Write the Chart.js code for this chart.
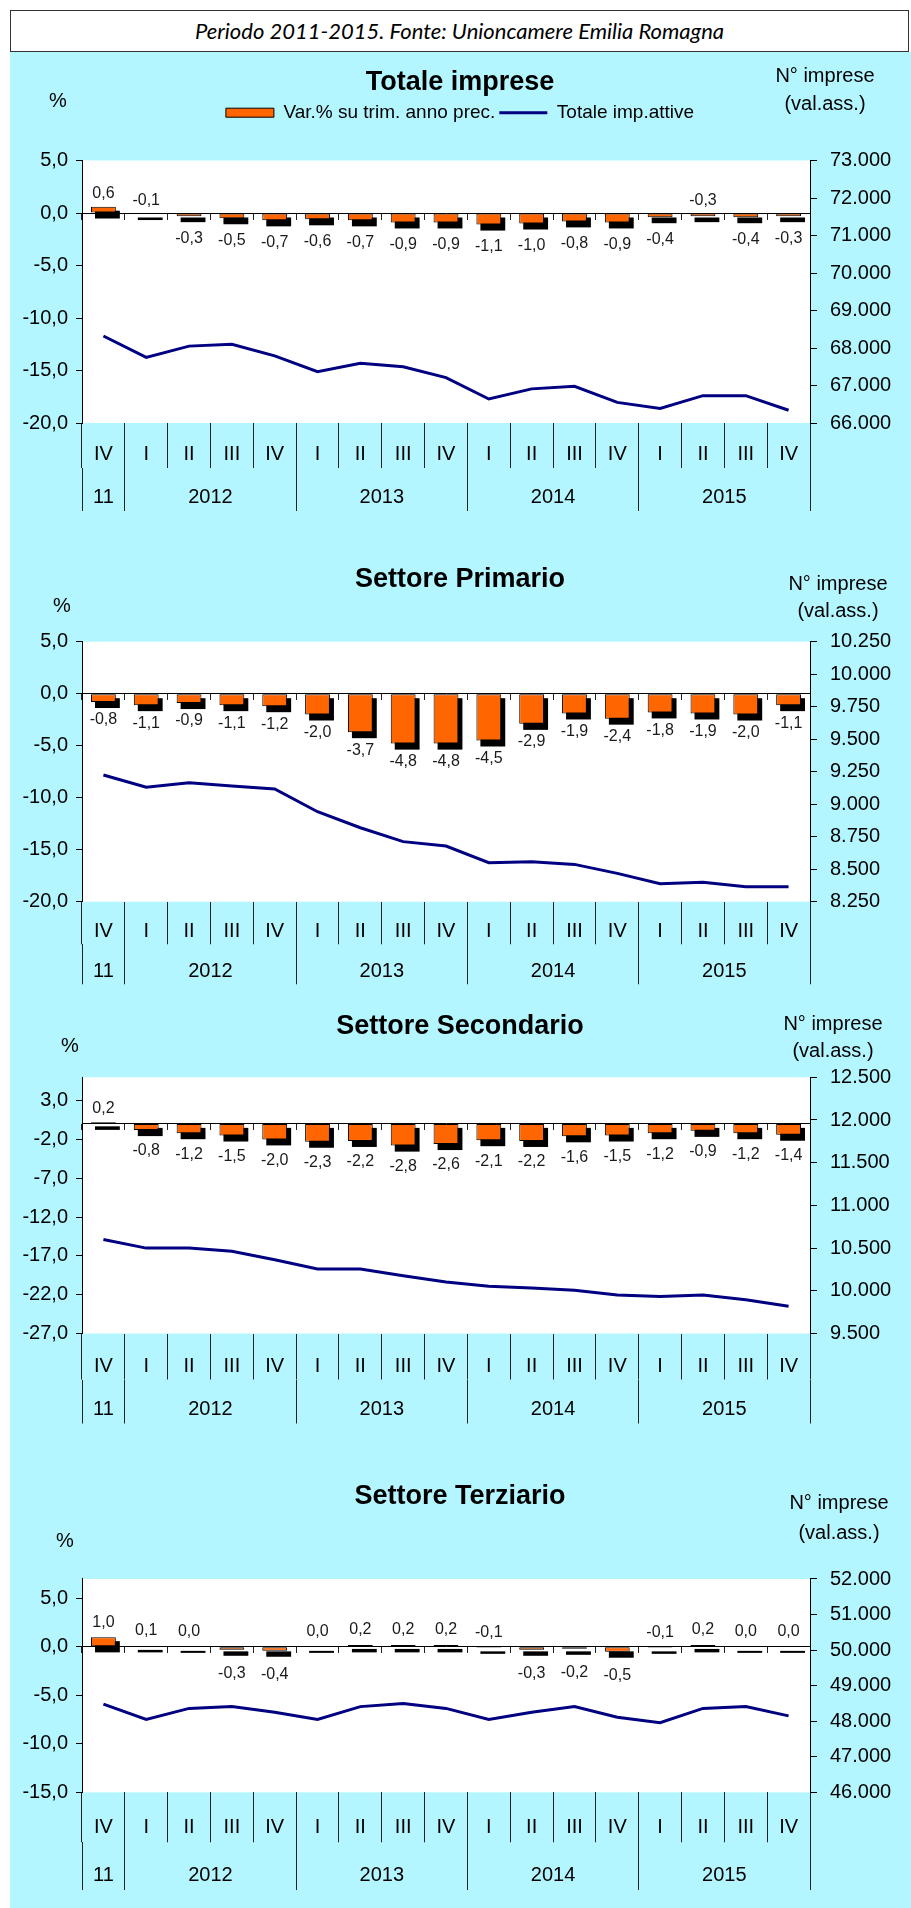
<!DOCTYPE html>
<html lang="it">
<head>
<meta charset="utf-8">
<title>Imprese attive - Emilia Romagna 2011-2015</title>
<script src="https://cdn.jsdelivr.net/npm/chart.js@4.4.1/dist/chart.umd.min.js"></script>
<style>
  html, body { margin: 0; padding: 0; background: #ffffff; }
  body { width: 911px; height: 1908px; position: relative; overflow: hidden;
         font-family: "Liberation Sans", Arial, sans-serif; color: #000; }
  #backdrop { position: absolute; left: 10px; top: 52px; width: 901px; height: 1856px; background: #b4f6ff; }
  #source { position: absolute; left: 10px; top: 10px; width: 897px; height: 40px;
            border: 1.5px solid #333; background: #fff; text-align: center;
            font-family: Lato, "Liberation Sans", sans-serif; font-style: italic;
            font-size: 22px; line-height: 40px; }
  canvas { position: absolute; left: 10px; }
  .axis-note { position: absolute; font-size: 20px; line-height: 1; white-space: nowrap;
               transform: translate(-50%, -50%); }
</style>
</head>
<body>
<div id="backdrop"></div>
<div id="source">Periodo 2011-2015. Fonte: Unioncamere Emilia Romagna</div>

<canvas id="chartTotale"></canvas>
<canvas id="chartPrimario"></canvas>
<canvas id="chartSecondario"></canvas>
<canvas id="chartTerziario"></canvas>

<!-- axis notes: "%" on the left, counts on the right -->
<div class="axis-note" style="left:58px; top:100px">%</div>
<div class="axis-note" style="left:825px; top:75px">N° imprese</div>
<div class="axis-note" style="left:825px; top:103px">(val.ass.)</div>

<div class="axis-note" style="left:62px; top:605px">%</div>
<div class="axis-note" style="left:838px; top:583px">N° imprese</div>
<div class="axis-note" style="left:838px; top:610px">(val.ass.)</div>

<div class="axis-note" style="left:70px; top:1045px">%</div>
<div class="axis-note" style="left:833px; top:1023px">N° imprese</div>
<div class="axis-note" style="left:833px; top:1050px">(val.ass.)</div>

<div class="axis-note" style="left:65px; top:1540px">%</div>
<div class="axis-note" style="left:839px; top:1502px">N° imprese</div>
<div class="axis-note" style="left:839px; top:1532px">(val.ass.)</div>

<script>
// Quarters on the category axis and the year each one belongs to
const quarters = ["IV", "I", "II", "III", "IV", "I", "II", "III", "IV", "I", "II", "III", "IV", "I", "II", "III", "IV"];
const quarterYears = ["11", "2012", "2012", "2012", "2012", "2013", "2013", "2013", "2013",
  "2014", "2014", "2014", "2014", "2015", "2015", "2015", "2015"];

// Totale imprese
const totaleVar = [0.6, -0.1, -0.3, -0.5, -0.7, -0.6, -0.7, -0.9, -0.9, -1.1, -1.0, -0.8, -0.9, -0.4, -0.3, -0.4, -0.3];
const totaleAttive = [68320, 67750, 68050, 68100, 67790, 67370, 67590, 67500, 67210, 66640, 66910, 66980, 66550, 66390, 66730, 66730, 66340];

// Settore Primario
const primarioVar = [-0.8, -1.1, -0.9, -1.1, -1.2, -2.0, -3.7, -4.8, -4.8, -4.5, -2.9, -1.9, -2.4, -1.8, -1.9, -2.0, -1.1];
const primarioAttive = [9225, 9130, 9165, 9140, 9117, 8942, 8819, 8712, 8678, 8550, 8558, 8537, 8468, 8388, 8399, 8365, 8365];

// Settore Secondario
const secondarioVar = [0.2, -0.8, -1.2, -1.5, -2.0, -2.3, -2.2, -2.8, -2.6, -2.1, -2.2, -1.6, -1.5, -1.2, -0.9, -1.2, -1.4];
const secondarioAttive = [10600, 10500, 10500, 10462, 10364, 10255, 10255, 10177, 10103, 10052, 10033, 10006, 9951, 9932, 9951, 9896, 9819];

// Settore Terziario
const terziarioVar = [1.0, 0.1, 0.0, -0.3, -0.4, 0.0, 0.2, 0.2, 0.2, -0.1, -0.3, -0.2, -0.5, -0.1, 0.2, 0.0, 0.0];
const terziarioAttive = [48480, 48050, 48360, 48410, 48250, 48050, 48410, 48500, 48360, 48050, 48250, 48410, 48110, 47960, 48360, 48410, 48150];

// Axis ticks
const pctTicksTotale = [-20, -15, -10, -5, 0, 5];
const pctTicksPrimario = [-20, -15, -10, -5, 0, 5];
const pctTicksSecondario = [-27, -22, -17, -12, -7, -2, 3];
const pctTicksTerziario = [-15, -10, -5, 0, 5];
const countTicksTotale = [66000, 67000, 68000, 69000, 70000, 71000, 72000, 73000];
const countTicksPrimario = [8250, 8500, 8750, 9000, 9250, 9500, 9750, 10000, 10250];
const countTicksSecondario = [9500, 10000, 10500, 11000, 11500, 12000, 12500];
const countTicksTerziario = [46000, 47000, 48000, 49000, 50000, 51000, 52000];

const TICK_FONT = 20;
Chart.defaults.font.family = '"Liberation Sans", Arial, sans-serif';
Chart.defaults.font.size = TICK_FONT;
Chart.defaults.color = "#000";

const formatPct = (v) => v.toFixed(1).replace(".", ",");
const formatCount = (v) => String(v).replace(/\B(?=(\d{3})+(?!\d))/g, ".");

// Year band: separators at the edges of each year, label in the middle
const yearGroups = [];
quarterYears.forEach((year, i) => {
  const last = yearGroups[yearGroups.length - 1];
  if (last && last.label === year) last.end = i;
  else yearGroups.push({ label: year, start: i, end: i });
});
const yearEdges = yearGroups.map((g) => g.start - 0.5).concat([quarterYears.length - 0.5]);
const yearCenters = {};
yearGroups.forEach((g) => { yearCenters[(g.start + g.end) / 2] = g.label; });
const yearTickValues = yearEdges.concat(Object.keys(yearCenters).map(Number)).sort((a, b) => a - b);

// White plot area on the cyan page
const plotBackground = {
  id: "plotBackground",
  beforeDraw(chart) {
    const { ctx, chartArea } = chart;
    ctx.save();
    ctx.fillStyle = "#ffffff";
    ctx.fillRect(chartArea.left, chartArea.top, chartArea.right - chartArea.left, chartArea.bottom - chartArea.top);
    ctx.restore();
  },
};

// Black drop shadow behind each bar
const barShadow = {
  id: "barShadow",
  beforeDatasetsDraw(chart) {
    const ctx = chart.ctx;
    ctx.save();
    ctx.fillStyle = "#000";
    chart.getDatasetMeta(0).data.forEach((bar) => {
      const top = Math.min(bar.y, bar.base);
      const h = Math.abs(bar.base - bar.y);
      ctx.fillRect(bar.x - bar.width / 2 + 4, top + 4, bar.width, h + 2);
    });
    ctx.restore();
  },
};

// Value labels under (or over) the bars
const barValueLabels = {
  id: "barValueLabels",
  afterDatasetsDraw(chart, args, opts) {
    const ctx = chart.ctx;
    const values = chart.data.datasets[0].data;
    ctx.save();
    ctx.font = '16px "Liberation Sans", Arial, sans-serif';
    ctx.fillStyle = "#1a1a1a";
    ctx.textAlign = "center";
    ctx.textBaseline = "middle";
    chart.getDatasetMeta(0).data.forEach((bar, i) => {
      const v = values[i];
      const above = v >= 0 || opts.raised.includes(i);
      const y = above ? Math.min(bar.y, bar.base) - opts.above : Math.max(bar.y, bar.base) + opts.below;
      ctx.fillText(formatPct(v), bar.x, y);
    });
    ctx.restore();
  },
};

function makePanel(canvasId, p) {
  const L = p.layout;
  const canvas = document.getElementById(canvasId);
  const top = Math.round(L.titleY - 30);
  const axesBottom = L.plotBottom + L.quarterBand + L.yearBand;
  canvas.width = 900;
  canvas.height = Math.round(axesBottom + 2 - top);
  canvas.style.top = top + "px";

  const titleLine = 27 * 1.2;
  const titlePadTop = L.titleY - top - titleLine / 2;
  const legendHeight = p.legend ? 19 + 4 + 10 : 0;
  const headerGap = L.plotTop - (top + titlePadTop + titleLine + legendHeight);
  const halfLine = (TICK_FONT * 1.2) / 2;

  const scales = {
    x: {
      type: "category",
      position: "bottom",
      weight: 0,
      offset: true,
      grid: { offset: true, drawOnChartArea: false, tickLength: L.quarterBand, color: "#222", lineWidth: 1 },
      border: { display: false },
      ticks: { autoSkip: false, maxRotation: 0, padding: 0.71 * L.quarterBand - L.quarterBand - halfLine },
      afterFit: (axis) => { axis.height = L.quarterBand; },
    },
    xYear: {
      type: "linear",
      axis: "x",
      position: "bottom",
      weight: 1,
      bounds: "data",
      offset: false,
      min: -0.5,
      max: quarters.length - 0.5,
      grid: {
        offset: false,
        drawOnChartArea: false,
        tickLength: L.yearBand,
        lineWidth: 1,
        color: (c) => (c.tick && yearEdges.includes(c.tick.value) ? "#222" : "rgba(0,0,0,0)"),
        tickColor: (c) => (c.tick && yearEdges.includes(c.tick.value) ? "#222" : "rgba(0,0,0,0)"),
      },
      border: { display: false },
      afterBuildTicks: (axis) => { axis.ticks = yearTickValues.map((v) => ({ value: v })); },
      ticks: {
        autoSkip: false,
        maxRotation: 0,
        padding: 0.69 * L.yearBand - L.yearBand - halfLine,
        callback: (v) => yearCenters[v] || "",
      },
      afterFit: (axis) => { axis.height = L.yearBand; },
    },
    xZero: {
      type: "category",
      axis: "x",
      position: { y: 0 },
      offset: true,
      grid: { offset: true, drawOnChartArea: false, tickLength: 6, color: "#222" },
      border: { display: true, color: "#000", width: 1 },
      ticks: { display: false },
    },
    y: {
      type: "linear",
      position: "left",
      bounds: "data",
      min: p.pctMin,
      max: p.pctMax,
      afterBuildTicks: (axis) => { axis.ticks = p.pctTicks.map((v) => ({ value: v })); },
      grid: { drawOnChartArea: false, tickLength: 6, color: "#000" },
      border: { color: "#000", width: 1 },
      ticks: { padding: 8, callback: (v) => formatPct(v) },
      afterFit: (axis) => { axis.width = 72; },
    },
    y1: {
      type: "linear",
      position: "right",
      bounds: "data",
      min: p.countMin,
      max: p.countMax,
      afterBuildTicks: (axis) => { axis.ticks = p.countTicks.map((v) => ({ value: v })); },
      grid: { drawOnChartArea: false, tickLength: 7, color: "#000" },
      border: { color: "#000", width: 1 },
      ticks: { padding: 13, callback: (v) => formatCount(v) },
      afterFit: (axis) => { axis.width = 100; },
    },
  };

  // spacer between the legend and the plot (only the first panel has a legend)
  if (p.legend) {
    scales.gap = {
      type: "category",
      axis: "x",
      position: "top",
      grid: { display: false },
      border: { display: false },
      ticks: { display: false },
      afterFit: (axis) => { axis.height = headerGap; },
    };
  }

  return new Chart(canvas.getContext("2d"), {
    type: "bar",
    data: {
      labels: quarters,
      datasets: [
        {
          type: "bar",
          label: "Var.% su trim. anno prec.",
          data: p.varData,
          backgroundColor: "#ff6600",
          borderColor: "#000",
          borderWidth: 1,
          borderSkipped: false,
          barPercentage: 0.58,
          categoryPercentage: 1,
          xAxisID: "x",
          yAxisID: "y",
        },
        {
          type: "line",
          label: "Totale imp.attive",
          data: p.countData,
          borderColor: "#000080",
          backgroundColor: "#000080",
          borderWidth: 3,
          pointRadius: 0,
          tension: 0,
          xAxisID: "x",
          yAxisID: "y1",
        },
      ],
    },
    options: {
      responsive: false,
      animation: false,
      devicePixelRatio: 1,
      events: [],
      layout: { padding: { top: 0, left: 0, right: 0, bottom: canvas.height - (axesBottom - top) } },
      scales: scales,
      plugins: {
        title: {
          display: true,
          text: p.title,
          color: "#000",
          font: { size: 27, weight: "bold" },
          padding: { top: titlePadTop, bottom: p.legend ? 0 : headerGap },
        },
        legend: {
          display: p.legend,
          position: "top",
          labels: {
            usePointStyle: true,
            pointStyleWidth: 48,
            boxHeight: 9,
            padding: 4,
            color: "#000",
            font: { size: 19 },
            generateLabels: (chart) =>
              Chart.defaults.plugins.legend.labels.generateLabels(chart).map((item) => ({
                ...item,
                pointStyle: item.datasetIndex === 0 ? "rect" : "line",
              })),
          },
        },
        tooltip: { enabled: false },
        barValueLabels: p.labels,
      },
    },
    plugins: [plotBackground, barShadow, barValueLabels],
  });
}

makePanel("chartTotale", {
  title: "Totale imprese",
  legend: true,
  varData: totaleVar,
  countData: totaleAttive,
  pctMin: -20, pctMax: 5, pctTicks: pctTicksTotale,
  countMin: 66000, countMax: 73000, countTicks: countTicksTotale,
  labels: { raised: [1, 14], above: 13, below: 22 },
  layout: { titleY: 83, plotTop: 160.5, plotBottom: 423, quarterBand: 45, yearBand: 43 },
});

makePanel("chartPrimario", {
  title: "Settore Primario",
  legend: false,
  varData: primarioVar,
  countData: primarioAttive,
  pctMin: -20, pctMax: 5, pctTicks: pctTicksPrimario,
  countMin: 8250, countMax: 10250, countTicks: countTicksPrimario,
  labels: { raised: [], above: 14, below: 18 },
  layout: { titleY: 580, plotTop: 641.7, plotBottom: 901.7, quarterBand: 42.6, yearBand: 40 },
});

makePanel("chartSecondario", {
  title: "Settore Secondario",
  legend: false,
  varData: secondarioVar,
  countData: secondarioAttive,
  pctMin: -27, pctMax: 6, pctTicks: pctTicksSecondario,
  countMin: 9500, countMax: 12500, countTicks: countTicksSecondario,
  labels: { raised: [], above: 14, below: 21 },
  layout: { titleY: 1026.7, plotTop: 1077.3, plotBottom: 1333.5, quarterBand: 46, yearBand: 44 },
});

makePanel("chartTerziario", {
  title: "Settore Terziario",
  legend: false,
  varData: terziarioVar,
  countData: terziarioAttive,
  pctMin: -15, pctMax: 7, pctTicks: pctTicksTerziario,
  countMin: 46000, countMax: 52000, countTicks: countTicksTerziario,
  labels: { raised: [9, 13], above: 15, below: 24 },
  layout: { titleY: 1496.7, plotTop: 1579, plotBottom: 1792.3, quarterBand: 50, yearBand: 47.7 },
});
</script>
</body>
</html>
